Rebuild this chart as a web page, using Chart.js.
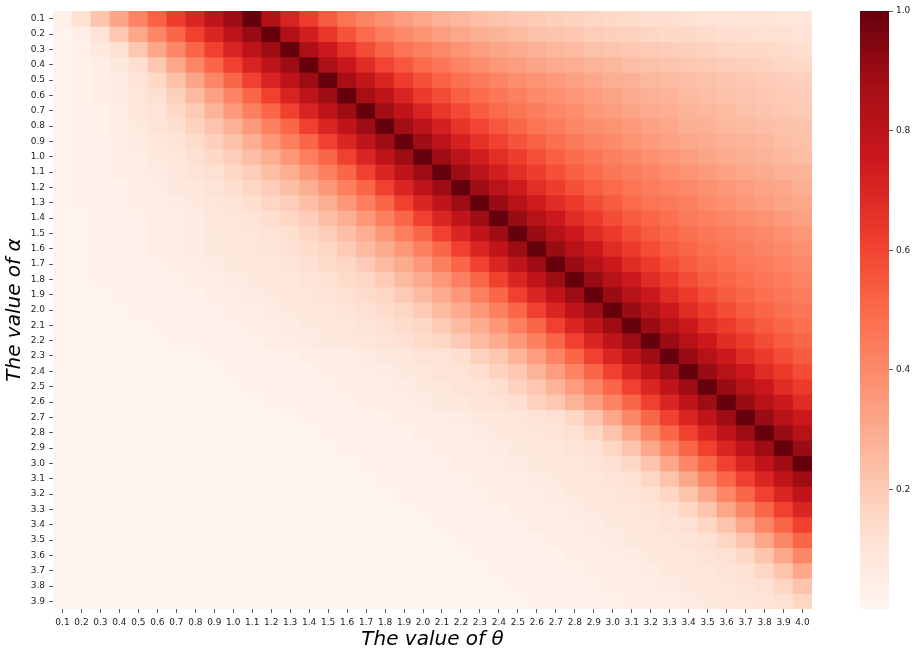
<!DOCTYPE html>
<html>
<head>
<meta charset="utf-8">
<script src="https://cdn.jsdelivr.net/npm/chart.js@4.4.0/dist/chart.umd.min.js"></script>
<style>
  html, body { margin: 0; padding: 0; background: #fff; }
  #wrap { position: relative; width: 919px; height: 656px; }
  #wrap canvas { position: absolute; left: 0; top: 0; }
</style>
</head>
<body>
<div id="wrap">
  <canvas id="heat" width="919" height="656"></canvas>
  <canvas id="cbar" width="919" height="656"></canvas>
</div>
<script>
// columns (theta) and rows (alpha)
const thetaLabels = ['0.1','0.2','0.3','0.4','0.5','0.6','0.7','0.8','0.9','1.0',
  '1.1','1.2','1.3','1.4','1.5','1.6','1.7','1.8','1.9','2.0',
  '2.1','2.2','2.3','2.4','2.5','2.6','2.7','2.8','2.9','3.0',
  '3.1','3.2','3.3','3.4','3.5','3.6','3.7','3.8','3.9','4.0'];
const alphaLabels = ['0.1','0.2','0.3','0.4','0.5','0.6','0.7','0.8','0.9','1.0',
  '1.1','1.2','1.3','1.4','1.5','1.6','1.7','1.8','1.9','2.0',
  '2.1','2.2','2.3','2.4','2.5','2.6','2.7','2.8','2.9','3.0',
  '3.1','3.2','3.3','3.4','3.5','3.6','3.7','3.8','3.9'];

// cell values x 100, one row per alpha, one column per theta
const heatPct = [
  [3,12,22,32,42,52,62,70,79,89,100,83,71,62,54,47,42,38,34,31,28,26,24,22,21,20,18,17,16,15,14,13,13,12,11,11,10,10,9,9],
  [1,4,11,21,31,41,51,61,70,80,90,100,84,73,64,56,50,44,40,37,34,31,29,27,25,23,22,21,19,18,17,16,15,15,14,13,13,12,12,11],
  [1,3,7,12,21,31,41,51,61,71,80,89,100,85,75,66,58,52,47,43,40,37,34,32,30,28,26,25,23,22,21,20,19,18,17,16,15,15,14,13],
  [1,2,4,7,13,21,31,41,51,61,71,80,89,100,86,76,68,60,55,50,46,42,39,36,34,32,30,29,27,26,24,23,22,21,20,19,18,17,16,15],
  [1,2,4,6,10,15,23,32,41,51,61,71,80,89,100,87,78,70,62,57,52,48,45,42,39,37,35,33,31,29,28,26,25,24,23,22,21,20,19,18],
  [1,2,4,6,9,13,18,25,33,42,51,61,71,80,89,100,87,79,71,63,58,53,49,46,43,40,38,36,34,32,30,28,27,25,24,23,22,21,20,19],
  [1,2,3,5,8,11,15,20,27,35,43,51,61,71,80,89,100,88,79,71,64,59,54,50,47,44,41,39,36,34,32,30,29,27,26,25,23,22,21,20],
  [1,2,3,5,7,10,13,17,22,28,35,43,51,61,70,79,89,100,88,80,72,65,60,55,51,47,44,41,39,37,35,33,31,29,28,26,25,24,23,22],
  [1,2,3,4,6,8,11,14,18,23,29,36,43,51,61,70,79,89,100,89,80,72,66,61,56,52,48,45,42,40,37,35,33,31,30,28,27,26,24,23],
  [1,2,3,4,5,7,9,12,15,19,24,29,36,43,51,61,70,79,89,100,89,81,73,67,62,57,53,49,46,43,41,38,36,34,32,30,29,27,26,24],
  [1,2,3,4,5,6,8,10,12,15,19,24,29,36,43,51,61,70,79,89,100,89,81,73,67,62,57,53,49,46,44,42,39,37,35,33,31,30,28,27],
  [1,2,2,3,4,5,7,8,10,13,16,19,24,29,36,43,51,61,70,79,89,100,89,81,74,67,62,57,53,50,47,44,42,40,38,36,34,32,31,29],
  [1,2,2,3,4,5,6,7,9,11,13,16,19,24,29,36,43,51,61,70,79,89,100,90,82,74,68,63,58,54,50,47,45,43,40,38,36,34,32,31],
  [1,1,2,3,3,4,5,6,8,9,11,13,16,19,24,29,36,43,51,61,70,79,89,100,90,82,75,68,63,58,54,51,48,45,43,41,39,37,35,33],
  [1,1,2,2,3,4,5,6,7,8,9,11,13,16,19,24,29,36,43,51,61,70,79,89,100,90,82,75,68,63,58,54,51,48,46,44,42,40,38,36],
  [1,1,2,3,3,4,5,6,7,8,9,10,12,14,16,20,25,30,36,43,51,61,70,79,89,100,90,82,75,68,63,58,54,51,48,46,44,42,40,38],
  [1,1,2,2,3,3,4,5,6,7,8,9,10,12,14,16,20,25,30,36,43,51,61,70,79,89,100,90,82,75,68,63,58,54,51,48,46,44,42,40],
  [1,1,2,2,2,3,3,4,5,6,7,8,9,10,12,14,16,20,25,30,36,43,51,61,70,79,89,100,90,82,75,68,63,58,54,51,48,46,44,42],
  [1,1,1,2,2,2,3,3,4,5,6,7,8,9,10,12,14,16,20,25,30,36,43,51,61,70,79,89,100,90,82,75,68,63,58,54,51,48,46,44],
  [1,1,1,1,2,2,2,3,3,4,5,6,7,8,9,10,12,14,16,20,25,30,36,43,51,61,70,79,89,100,90,82,75,68,63,58,54,51,48,46],
  [1,1,1,1,1,2,2,2,3,3,4,5,6,7,8,9,10,12,14,16,20,25,30,36,43,51,61,70,79,89,100,90,82,75,68,63,58,54,51,48],
  [1,1,1,1,1,1,2,2,2,3,3,4,5,6,7,8,9,10,12,14,16,20,25,30,36,43,51,61,70,79,89,100,90,82,75,68,63,58,54,51],
  [1,1,1,1,1,1,1,1,2,2,2,3,3,4,5,5,6,7,8,10,11,13,17,21,27,34,42,51,61,70,79,89,100,90,82,75,68,63,58,54],
  [0,1,1,1,1,1,1,1,1,2,2,2,3,3,4,5,5,6,7,8,10,11,13,17,21,27,34,42,51,61,70,79,89,100,90,82,75,68,63,58],
  [0,0,1,1,1,1,1,1,1,1,2,2,2,3,3,4,5,5,6,7,8,10,11,13,17,21,27,34,42,51,61,70,79,89,100,90,82,75,68,63],
  [0,0,0,1,1,1,1,1,1,1,1,2,2,2,3,3,4,5,5,6,7,8,10,11,13,17,21,27,34,42,51,61,70,79,89,100,90,82,75,68],
  [0,0,0,0,0,0,1,1,1,1,1,1,1,2,2,2,3,3,4,4,5,6,7,8,9,10,12,16,22,31,41,51,61,70,79,89,100,90,82,75],
  [0,0,0,0,0,0,0,1,1,1,1,1,1,1,2,2,2,3,3,4,4,5,6,7,8,9,10,12,16,22,31,41,51,61,70,79,89,100,90,82],
  [0,0,0,0,0,0,0,0,1,1,1,1,1,1,1,2,2,2,3,3,4,4,5,6,7,8,9,10,12,16,22,31,41,51,61,70,79,89,100,90],
  [0,0,0,0,0,0,0,0,0,1,1,1,1,1,1,1,2,2,2,3,3,4,4,5,6,7,8,9,10,12,16,22,31,41,51,61,70,79,89,100],
  [0,0,0,0,0,0,0,0,0,0,1,1,1,1,1,1,1,2,2,2,3,3,4,4,5,6,7,8,9,10,12,16,22,31,41,51,61,70,79,89],
  [0,0,0,0,0,0,0,0,0,0,0,1,1,1,1,1,1,1,2,2,2,3,3,4,4,5,6,7,8,9,10,12,16,22,31,41,51,61,70,79],
  [0,0,0,0,0,0,0,0,0,0,0,0,1,1,1,1,1,1,1,2,2,2,3,3,4,4,5,6,7,8,9,10,12,16,22,31,41,51,61,70],
  [0,0,0,0,0,0,0,0,0,0,0,0,0,1,1,1,1,1,1,1,2,2,2,3,3,4,4,5,6,7,8,9,10,12,16,22,31,41,51,61],
  [0,0,0,0,0,0,0,0,0,0,0,0,0,0,1,1,1,1,1,1,1,2,2,2,3,3,4,4,5,6,7,8,9,10,12,16,22,31,41,51],
  [0,0,0,0,0,0,0,0,0,0,0,0,0,0,0,1,1,1,1,1,1,1,2,2,2,3,3,4,4,5,6,7,8,9,10,12,16,22,31,41],
  [0,0,0,0,0,0,0,0,0,0,0,0,0,0,0,0,1,1,1,1,1,1,1,2,2,2,3,3,4,4,5,6,7,8,9,10,12,16,22,31],
  [0,0,0,0,0,0,0,0,0,0,0,0,0,0,0,0,0,1,1,1,1,1,1,1,2,2,2,3,3,4,4,5,6,7,8,9,10,12,16,22],
  [0,0,0,0,0,0,0,0,0,0,0,0,0,0,0,0,0,0,1,1,1,1,1,1,1,2,2,2,3,3,4,4,5,6,7,8,9,10,12,16]
];

const cbarTicks = [0.2, 0.4, 0.6, 0.8, 1.0];
// matplotlib "Reds" colour stops
const redsStops = ['#fff5f0','#fee0d2','#fcbba1','#fc9272','#fb6a4a','#ef3b2c','#cb181d','#a50f15','#67000d'];

const FONT = "'DejaVu Sans', 'Liberation Sans', sans-serif";
const TXT = '#222';

function hexToRgb(h) {
  return [1, 3, 5].map(i => parseInt(h.substr(i, 2), 16));
}

function redsColor(v) {
  const t = Math.max(0, Math.min(1, v)) * (redsStops.length - 1);
  const i = Math.min(Math.floor(t), redsStops.length - 2);
  const f = t - i;
  const a = hexToRgb(redsStops[i]);
  const b = hexToRgb(redsStops[i + 1]);
  const c = a.map((x, k) => Math.round(x + (b[k] - x) * f));
  return 'rgb(' + c.join(',') + ')';
}

// one floating-bar dataset per alpha row
const datasets = heatPct.map((row, j) => ({
  label: alphaLabels[j],
  data: row.map(() => [j, j + 1]),
  backgroundColor: row.map(v => redsColor(v / 100)),
  borderWidth: 0,
  grouped: false,
  barPercentage: 1,
  categoryPercentage: 1
}));

new Chart(document.getElementById('heat'), {
  type: 'bar',
  data: { labels: thetaLabels, datasets: datasets },
  options: {
    responsive: false,
    animation: false,
    devicePixelRatio: 1,
    layout: { padding: { top: 11, right: 107, left: 0, bottom: 0 } },
    plugins: { legend: { display: false }, tooltip: { enabled: false } },
    scales: {
      x: {
        grid: { offset: false, drawOnChartArea: false, tickLength: 4, color: '#333', lineWidth: 0.8 },
        border: { display: false },
        ticks: { autoSkip: false, maxRotation: 0, minRotation: 0, padding: 4, color: TXT,
                 font: { size: 9, family: FONT } },
        title: { display: true, text: 'The value of θ', color: '#000',
                 font: { size: 20, style: 'italic', family: FONT }, padding: { top: 0, bottom: 4 } },
        afterFit: s => { s.height = 47; }
      },
      y: {
        min: 0,
        max: 39,
        reverse: true,
        afterBuildTicks: s => { s.ticks = alphaLabels.map((_, j) => ({ value: j + 0.5 })); },
        grid: { drawOnChartArea: false, tickLength: 4, color: '#333', lineWidth: 0.8 },
        border: { display: false },
        ticks: { autoSkip: false, padding: 4, color: TXT, font: { size: 9, family: FONT },
                 callback: (v, i) => alphaLabels[i] },
        title: { display: true, text: 'The value of α', color: '#000',
                 font: { size: 20, style: 'italic', family: FONT }, padding: { top: 3, bottom: 0 } },
        afterFit: s => { s.width = 53; }
      }
    }
  }
});

// colour bar
new Chart(document.getElementById('cbar'), {
  type: 'bar',
  data: {
    labels: ['cb'],
    datasets: [{
      data: [[0, 1]],
      borderWidth: 0,
      barPercentage: 1,
      categoryPercentage: 1,
      backgroundColor: ctx => {
        const chart = ctx.chart;
        if (!chart.chartArea) return null;
        const y = chart.scales.y;
        const g = chart.ctx.createLinearGradient(0, y.getPixelForValue(0), 0, y.getPixelForValue(1));
        redsStops.forEach((c, i) => g.addColorStop(i / (redsStops.length - 1), c));
        return g;
      }
    }]
  },
  options: {
    responsive: false,
    animation: false,
    devicePixelRatio: 1,
    layout: { padding: { top: 11, left: 860, right: 0, bottom: 47 } },
    plugins: { legend: { display: false }, tooltip: { enabled: false } },
    scales: {
      x: { display: false },
      y: {
        position: 'right',
        min: 0,
        max: 1,
        afterBuildTicks: s => { s.ticks = cbarTicks.map(v => ({ value: v })); },
        grid: { drawOnChartArea: false, tickLength: 4, color: '#333', lineWidth: 0.8 },
        border: { display: false },
        ticks: { padding: 3, color: TXT, font: { size: 9, family: FONT }, callback: v => v.toFixed(1) },
        afterFit: s => { s.width = 30; }
      }
    }
  }
});
</script>
</body>
</html>
